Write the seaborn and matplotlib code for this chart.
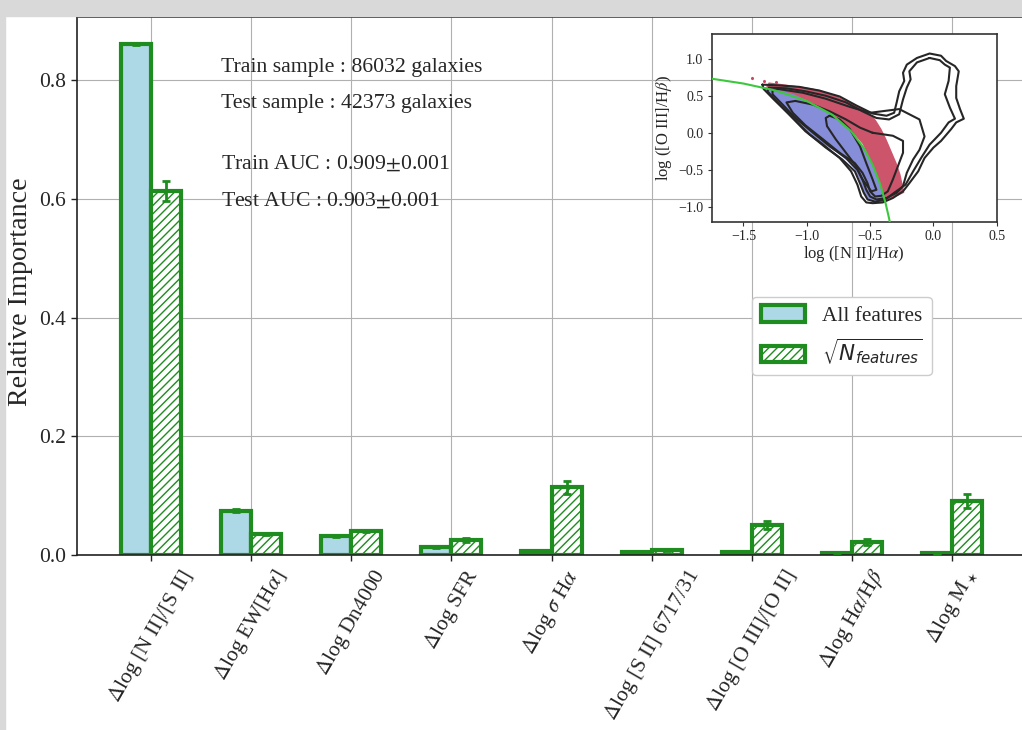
import numpy as np
import pandas as pd
import matplotlib
matplotlib.use('Agg')
import matplotlib.pyplot as plt
from matplotlib.patches import Rectangle
import seaborn as sns

# ---------------- data ----------------
features = [r'$\Delta$log [N II]/[S II]', r'$\Delta$log EW[H$\alpha$]', r'$\Delta$log Dn4000',
            r'$\Delta$log SFR', r'$\Delta$log $\sigma$ H$\alpha$', r'$\Delta$log [S II] 6717/31',
            r'$\Delta$log [O III]/[O II]', r'$\Delta$log H$\alpha$/H$\beta$', r'$\Delta$log M$_\star$']
model_labels = ['All features', r'$\sqrt{N_{features}}$']
all_importance = [0.861, 0.075, 0.032, 0.013, 0.007, 0.005, 0.005, 0.004, 0.003]
all_error = [0.002, 0.002, 0.001, 0.001, 0.0005, 0.0005, 0.0005, 0.0005, 0.0005]
sqrt_importance = [0.614, 0.035, 0.040, 0.025, 0.114, 0.008, 0.050, 0.022, 0.091]
sqrt_error = [0.017, 0.002, 0.002, 0.003, 0.011, 0.001, 0.007, 0.005, 0.011]
info_texts = ['Train sample : 86032 galaxies', 'Test sample : 42373 galaxies',
              r'Train AUC : 0.909$\pm$0.001', r'Test AUC : 0.903$\pm$0.001']

# inset (BPT diagram) data
curve_x = [-1.75, -1.5, -1.25, -1.0, -0.8, -0.65, -0.55, -0.48, -0.42, -0.38, -0.35, -0.34]
curve_y = [0.73, 0.665, 0.572, 0.43, 0.245, 0.022, -0.205, -0.431, -0.697, -0.933, -1.155, -1.24]

red_x = [-1.30, -1.16, -1.03, -0.90, -0.77, -0.64, -0.53, -0.48, -0.45, -0.41, -0.37, -0.33, -0.29,
         -0.26, -0.24, -0.23, -0.28, -0.33, -0.38, -0.40, -0.44, -0.49, -0.56, -0.66, -0.80, -0.95,
         -1.10, -1.25, -1.32]
red_y = [0.68, 0.65, 0.62, 0.58, 0.50, 0.40, 0.29, 0.23, 0.16, 0.05, -0.09, -0.25, -0.41,
         -0.56, -0.72, -0.81, -0.85, -0.88, -0.91, -0.80, -0.62, -0.40, -0.15, 0.05, 0.25, 0.38,
         0.48, 0.57, 0.62]
blue_x = [-1.33, -1.22, -1.10, -1.00, -0.90, -0.80, -0.72, -0.65, -0.58, -0.52, -0.48, -0.44, -0.41,
          -0.39, -0.38, -0.43, -0.48, -0.53, -0.56, -0.58, -0.62, -0.68, -0.76, -0.86, -0.97, -1.08,
          -1.18, -1.27, -1.33]
blue_y = [0.62, 0.58, 0.52, 0.44, 0.34, 0.245, 0.13, 0.02, -0.13, -0.30, -0.43, -0.60, -0.75,
          -0.87, -0.93, -0.94, -0.93, -0.88, -0.78, -0.64, -0.50, -0.38, -0.27, -0.16, -0.03, 0.13,
          0.30, 0.48, 0.58]
stray_x = [-1.43, -1.34, -1.24, -0.61]
stray_y = [0.74, 0.70, 0.68, 0.34]

contour1_x = [-1.35, -1.22, -1.06, -0.90, -0.74, -0.61, -0.48, -0.37, -0.31, -0.29, -0.27, -0.23, -0.24,
              -0.21, -0.13, -0.03, 0.06, 0.10, 0.17, 0.20, 0.18, 0.18, 0.21, 0.24, 0.18, 0.14, 0.06,
              0.00, -0.07, -0.12, -0.19, -0.24, -0.32, -0.40, -0.48, -0.53, -0.57, -0.60, -0.65, -0.74,
              -0.87, -1.01, -1.14, -1.26, -1.34, -1.35]
contour1_y = [0.65, 0.64, 0.62, 0.57, 0.49, 0.37, 0.26, 0.23, 0.27, 0.41, 0.56, 0.70, 0.81,
              0.92, 1.01, 1.07, 1.04, 0.97, 0.90, 0.83, 0.63, 0.47, 0.32, 0.19, 0.14, 0.05, -0.11,
              -0.20, -0.34, -0.52, -0.68, -0.79, -0.88, -0.94, -0.95, -0.94, -0.86, -0.70, -0.52, -0.34,
              -0.16, 0.02, 0.25, 0.45, 0.59, 0.65]
contour2_x = [-0.03, 0.05, 0.09, 0.13, 0.12, 0.09, 0.13, 0.17, 0.12, 0.06, -0.03, -0.09, -0.16, -0.22,
              -0.31, -0.38, -0.46, -0.52, -0.55, -0.58, -0.62, -0.72, -0.85, -0.98, -1.11, -1.23, -1.31,
              -1.30, -1.16, -1.01, -0.85, -0.69, -0.56, -0.45, -0.35, -0.27, -0.24, -0.21, -0.18, -0.19,
              -0.13, -0.03]
contour2_y = [1.01, 0.98, 0.92, 0.88, 0.70, 0.52, 0.34, 0.19, 0.14, 0.00, -0.16, -0.32, -0.52, -0.70,
              -0.81, -0.90, -0.93, -0.90, -0.81, -0.68, -0.52, -0.36, -0.20, -0.02, 0.20, 0.41, 0.56,
              0.61, 0.60, 0.56, 0.50, 0.41, 0.29, 0.20, 0.18, 0.25, 0.45, 0.61, 0.72, 0.83,
              0.95, 1.01]
contour3_x = [-1.22, -1.03, -0.85, -0.66, -0.50, -0.27, -0.11, -0.07, -0.11, -0.16, -0.21, -0.24, -0.29,
              -0.37, -0.45, -0.50, -0.53, -0.56, -0.60, -0.69, -0.82, -0.95, -1.09, -1.19, -1.27, -1.27,
              -1.22]
contour3_y = [0.59, 0.54, 0.46, 0.35, 0.27, 0.32, 0.18, -0.05, -0.23, -0.36, -0.54, -0.72, -0.81,
              -0.88, -0.90, -0.86, -0.77, -0.63, -0.50, -0.34, -0.18, 0.00, 0.20, 0.38, 0.52, 0.58,
              0.59]
contour4_x = [-0.48, -0.32, -0.24, -0.24, -0.28, -0.32, -0.36, -0.41, -0.46, -0.50, -0.52, -0.56, -0.62,
              -0.74, -0.87, -1.01, -1.11, -1.16, -1.09, -0.95, -0.82, -0.69, -0.58, -0.48]
contour4_y = [0.00, -0.04, -0.11, -0.27, -0.45, -0.63, -0.79, -0.85, -0.86, -0.79, -0.68, -0.54, -0.41,
              -0.27, -0.09, 0.10, 0.27, 0.41, 0.43, 0.38, 0.29, 0.18, 0.07, 0.00]
contour5_x = [-0.82, -0.74, -0.66, -0.58, -0.53, -0.48, -0.45, -0.49, -0.56, -0.61, -0.69, -0.77, -0.84,
              -0.85, -0.82]
contour5_y = [0.23, 0.18, 0.05, -0.18, -0.41, -0.63, -0.77, -0.79, -0.63, -0.45, -0.27, -0.09, 0.09,
              0.20, 0.23]
contours = [(contour1_x, contour1_y), (contour2_x, contour2_y), (contour3_x, contour3_y),
            (contour4_x, contour4_y), (contour5_x, contour5_y)]

# ---------------- style ----------------
GREEN = '#1e8c1e'
sns.set_style('ticks')
plt.rcParams['font.family'] = ['Liberation Serif', 'DejaVu Serif']
plt.rcParams['mathtext.fontset'] = 'stix'
plt.rcParams['hatch.linewidth'] = 1.0

df = pd.DataFrame({
    'feature': features * 2,
    'model': [model_labels[0]] * len(features) + [model_labels[1]] * len(features),
    'importance': all_importance + sqrt_importance,
})

fig = plt.figure(figsize=(10.22, 7.30), dpi=100)
fig.patch.set_facecolor('white')
ax = fig.add_axes([0.0758, 0.2397, 0.9277, 0.7366])

sns.barplot(data=df, x='feature', y='importance', hue='model', order=features,
            hue_order=model_labels, palette={model_labels[0]: '#add8e6', model_labels[1]: 'white'},
            width=0.6, saturation=1, edgecolor=GREEN, linewidth=3, errorbar=None,
            legend=False, ax=ax)
for p in ax.containers[1]:
    p.set_hatch('////')

for cont, vals, errs in zip(ax.containers, [all_importance, sqrt_importance], [all_error, sqrt_error]):
    xs = [p.get_x() + p.get_width() / 2 for p in cont]
    ax.errorbar(xs, vals, yerr=errs, fmt='none', ecolor=GREEN, elinewidth=2,
                capsize=3, capthick=2, zorder=4)

ax.set_xlim(-0.73, 8.73)
ax.set_ylim(0, 0.906)
ax.set_yticks([0.0, 0.2, 0.4, 0.6, 0.8])
ax.grid(True, color='#b0b0b0', linewidth=0.8)
ax.set_axisbelow(True)
for s in ax.spines.values():
    s.set_color('#222222')
    s.set_linewidth(1.2)
ax.tick_params(axis='both', labelsize=15.5, length=4.5, width=1, color='#222222', direction='out')
ax.tick_params(axis='x', labelrotation=60, pad=3)
for lab in ax.get_xticklabels():
    lab.set_ha('center')
ax.set_xlabel('')
ax.set_ylabel('Relative Importance', fontsize=20.2)
ax.yaxis.set_label_coords(-0.047, 0.49)

text_y = [0.8977, 0.8308, 0.7192, 0.6496]
for t, yy in zip(info_texts, text_y):
    ax.text(0.151, yy, t, transform=ax.transAxes, fontsize=15.7, va='baseline', ha='left')

leg = ax.legend(handles=[ax.containers[0][0], ax.containers[1][0]], labels=model_labels,
                loc='upper left', bbox_to_anchor=(0.7115, 0.48), borderaxespad=0,
                fontsize=15.3, frameon=True, fancybox=True, framealpha=1,
                edgecolor='#cccccc', handlelength=2.1, handleheight=0.8)
leg.get_texts()[1].set_math_fontfamily('dejavusans')
leg.get_texts()[1].set_fontsize(15.5)

# ---------------- inset ----------------
axi = fig.add_axes([0.6964, 0.6963, 0.2789, 0.2578])
axi.set_facecolor('white')
axi.fill(red_x, red_y, color='#c8465f', alpha=0.92, lw=0, zorder=1)
axi.fill(blue_x, blue_y, color='#8088d8', alpha=0.95, lw=0, zorder=2)
axi.scatter(stray_x, stray_y, s=6, color='#c8465f', marker='h', lw=0, zorder=2)
for cx, cy in contours:
    axi.plot(cx, cy, color='#262626', lw=1.5, zorder=3)
axi.plot(curve_x, curve_y, color='#3cc83c', lw=1.5, zorder=4)
axi.set_xlim(-1.75, 0.5)
axi.set_ylim(-1.2, 1.34)
axi.set_xticks([-1.5, -1.0, -0.5, 0.0, 0.5])
axi.set_yticks([-1.0, -0.5, 0.0, 0.5, 1.0])
axi.tick_params(labelsize=10, length=3, width=0.8, color='#333333', pad=3)
for s in axi.spines.values():
    s.set_color('#333333')
    s.set_linewidth(1.2)
axi.set_xlabel(r'log ([N II]/H$\alpha$)', fontsize=12, labelpad=1)
axi.set_ylabel(r'log ([O III]/H$\beta$)', fontsize=12, labelpad=3)

# grey screenshot margins
fig.patches.append(Rectangle((0, 1 - 16 / 730), 1, 16 / 730, transform=fig.transFigure,
                             color='#d9d9d9', zorder=5))
fig.patches.append(Rectangle((0, 0), 5 / 1022, 1, transform=fig.transFigure,
                             color='#d9d9d9', zorder=5))

fig.savefig('out.png', dpi=100)
